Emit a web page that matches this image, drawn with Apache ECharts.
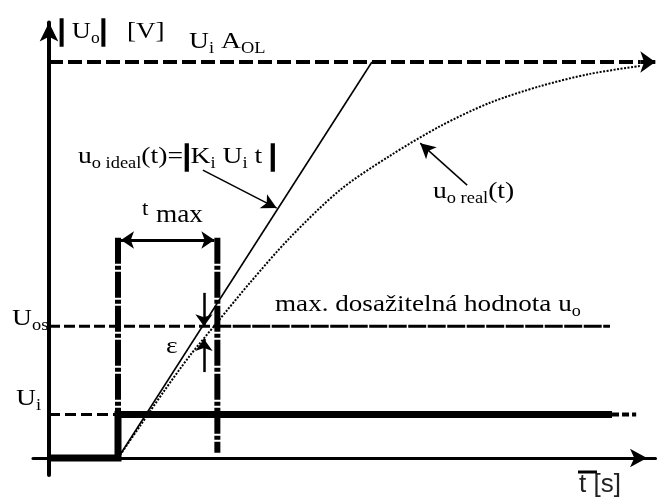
<!DOCTYPE html>
<html>
<head>
<meta charset="utf-8">
<script src="https://cdn.jsdelivr.net/npm/echarts@6/dist/echarts.min.js"></script>
<style>
  html, body { margin: 0; padding: 0; background: #fff; }
  #chart { width: 659px; height: 501px; }
</style>
</head>
<body>
<div id="chart"></div>
<script>
// ---- values (t in arbitrary time units, u in % of Ui·A_OL) ----
const T_STEP = 10;          // input step applied
const T_END = 24.4;         // end of the t_max window
const T_UOS_SOLID = 23.8;   // Uos line turns solid from here
const T_EPS = 22.46;        // where ε is measured
const T_LEVEL_END = 81.6;   // end of the drawn Ui / Uos levels
const T_RIGHT = 85.7;       // right end of Ui·A_OL asymptote
const U_I = 11;             // input level Ui
const U_OS = 33.3;          // max. reachable output Uos
const U_SAT = 100;          // Ui·A_OL
const U_EPS = 30.05;        // real output at T_EPS
const U_TMAX_TOP = 55.6;    // top of the t_max markers
const U_TMAX_ARROW = 55.05; // height of the t_max arrow

const idealT = [T_STEP, 46.8];
const idealU = [0, U_SAT];
const realT = [10, 13.2, 16.8, 20.4, 24.4, 29.1, 34.9, 42.2, 49.4, 56.7, 63.9, 71.2, 78.4, 85.7];
const realU = [0, 8.1, 17.2, 25.8, 34.3, 44.2, 55.6, 67.7, 76.3, 83.8, 89.7, 93.9, 97.0, 99.0];
const stepT = [0, T_STEP, T_STEP, T_LEVEL_END];
const stepU = [0, 0, U_I, U_I];

// ---- layout ----
const XPX = 6.9, YPX = 3.96;   // pixels per unit
const OX = 49, OY = 458;       // pixel position of the origin
const xMin = -2.32, xMax = 87.9, yMin = -4.3, yMax = 110;

const zip = (a, b) => a.map((v, i) => [v, b[i]]);

function lineSeries(data, style, extra) {
  return Object.assign({
    type: 'line', data: data, symbol: 'none', silent: true, animation: false,
    clip: false, lineStyle: Object.assign({ color: '#000', cap: 'butt', join: 'miter' }, style)
  }, extra || {});
}

// straight pointer whose arrow head tip sits on `tip` (optionally also on `from`)
function arrowSeries(from, tip, width, size, both) {
  return {
    type: 'line', data: [], silent: true, animation: false,
    markLine: {
      silent: true, animation: false,
      symbol: [both ? 'arrow' : 'none', 'arrow'],
      symbolSize: size,
      label: { show: false },
      lineStyle: { color: '#000', width: width, type: 'solid' },
      emphasis: { disabled: true },
      data: [[{ coord: from }, { coord: tip }]]
    }
  };
}

const serif = 'Liberation Serif';
const RICH = {
  m: { fontFamily: serif, fontSize: 24, lineHeight: 30, fill: '#000' },
  s: { fontFamily: serif, fontSize: 16, lineHeight: 14, verticalAlign: 'bottom', fill: '#000' },
  bar: { fontFamily: serif, fontSize: 30, fontWeight: 'bold', lineHeight: 30, fill: '#000',
         stroke: '#000', lineWidth: 1.6 }
};
function text(x, y, str, sx, rich) {
  return {
    type: 'text', x: x, y: y, scaleX: sx || 1.13, silent: true,
    style: { text: str, rich: rich || RICH, fill: '#000', align: 'left', verticalAlign: 'middle',
             fontFamily: serif, fontSize: 24 }
  };
}

const chart = echarts.init(document.getElementById('chart'));

chart.setOption({
  animation: false,
  backgroundColor: '#fff',
  grid: {
    left: OX + xMin * XPX,
    width: (xMax - xMin) * XPX,
    top: OY - yMax * YPX,
    height: (yMax - yMin) * YPX
  },
  xAxis: {
    type: 'value', min: xMin, max: xMax,
    axisLine: { show: true, onZero: true, symbol: ['none', 'arrow'], symbolSize: [14, 17],
                symbolOffset: [0, -8.5], lineStyle: { color: '#000', width: 3 } },
    axisTick: { show: false }, axisLabel: { show: false }, splitLine: { show: false }
  },
  yAxis: {
    type: 'value', min: yMin, max: yMax,
    axisLine: { show: true, onZero: true, symbol: ['none', 'arrow'], symbolSize: [14, 19],
                lineStyle: { color: '#000', width: 4 } },
    axisTick: { show: false }, axisLabel: { show: false }, splitLine: { show: false }
  },
  series: [
    // Ui·A_OL asymptote
    lineSeries([[0, U_SAT], [T_RIGHT, U_SAT]], { width: 4, type: [14, 5] }),
    arrowSeries([T_RIGHT, U_SAT], [T_RIGHT + 15 / XPX, U_SAT], 4, [16, 15]),
    // Uos level
    lineSeries([[0, U_OS], [T_UOS_SOLID, U_OS]], { width: 3, type: [11, 4] }),
    lineSeries([[T_UOS_SOLID, U_OS], [81.3, U_OS]], { width: 3, type: [18, 1.5] }),
    // Ui level
    lineSeries([[0, U_I], [T_STEP, U_I]], { width: 3, type: [11, 5] }),
    lineSeries([[T_LEVEL_END, U_I], [85.1, U_I]], { width: 4, type: [7, 3] }),
    // t_max markers
    lineSeries([[T_STEP, U_TMAX_TOP], [T_STEP, 0]], { width: 6, type: [26, 2, 4, 2] }),
    lineSeries([[T_END, U_TMAX_TOP], [T_END, 1.3]], { width: 6, type: [26, 2, 4, 2] }),
    // ideal and real output
    lineSeries(zip(idealT, idealU), { width: 1.6 }),
    lineSeries(zip(realT, realU), { width: 2, type: [2, 1.5] }, { smooth: 0.3 }),
    // input step
    lineSeries(zip(stepT, stepU), { width: 7 }, { z: 5 }),
    // t_max span arrow
    arrowSeries([T_STEP + 3 / XPX, U_TMAX_ARROW], [T_END - 3 / XPX, U_TMAX_ARROW], 3, [13, 13], true),
    // ε arrows
    arrowSeries([T_EPS, 41.7], [T_EPS, U_OS], 2.5, [13, 12]),
    arrowSeries([T_EPS, 21.7], [T_EPS, U_EPS], 2.5, [13, 12]),
    // label pointers
    arrowSeries([22.3, 72.7], [33.0, 63.1], 1.5, [12, 15]),
    arrowSeries([60.6, 68.9], [53.8, 79.5], 1.5, [12, 15])
  ],
  graphic: [
    text(58, 31.8, '{bar||}{m| U}{s|o}{bar||}', 1.1),
    text(127, 31.8, '{m|[V]}'),
    text(189, 41.8, '{m|U}{s|i}{m| A}{s|OL}', 1.15),
    text(78, 156.8, '{m|u}{s|o ideal}{m|(t)=}{bar||}{m|K}{s|i}{m| U}{s|i}{m| t }{bar||}', 1.15),
    text(142, 209, '{t|t}', 1.1, { t: { fontFamily: serif, fontSize: 21, fill: '#000' } }),
    text(156, 215, '{t|max}', 1.05, { t: { fontFamily: serif, fontSize: 26, fill: '#000' } }),
    text(433, 191.8, '{m|u}{s|o real}{m|(t)}', 1.15),
    text(275, 304.8, '{m|max. dosažitelná hodnota u}{s|o}', 1.13),
    text(12, 318.8, '{m|U}{s|os}', 1.15),
    text(166, 346.8, '{m|ε}', 1.15),
    text(16, 398.8, '{m|U}{s|i}', 1.15),
    {
      type: 'text', x: 579, y: 498, silent: true,
      style: { text: 't [s]', fontFamily: 'Liberation Sans', fontSize: 26, fill: '#222',
               align: 'left', verticalAlign: 'bottom' }
    },
    {
      type: 'line', silent: true,
      shape: { x1: 578, y1: 472, x2: 597, y2: 472 },
      style: { stroke: '#000', lineWidth: 3 }
    }
  ]
});
</script>
</body>
</html>
